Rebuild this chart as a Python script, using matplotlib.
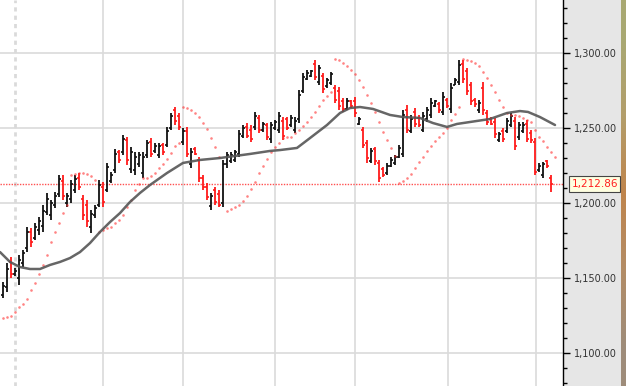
import matplotlib
matplotlib.use("Agg")
import matplotlib.pyplot as plt
import numpy as np
from matplotlib.ticker import MultipleLocator, FuncFormatter

# ---------------- data ----------------
opens = [1139,1144,1161,1153,1150,1160,1170,1181,1177,1182,1185,1194,1192,1199,1206,1215,1200,1203,1209,1217,
         1203,1199,1184,1192,1199,1211,1209,1215,1222,1234,1234,1242,1223,1222,1226,1220,1232,1241,1235,1232,
         1239,1239,1250,1262,1258,1241,1248,1226,1236,1229,1217,1211,1198,1209,1206,1200,1226,1228,1229,1233,
         1245,1251,1249,1251,1257,1249,1252,1243,1250,1249,1255,1256,1252,1249,1256,1275,1283,1285,1293,1281,
         1285,1278,1280,1277,1275,1268,1263,1268,1268,1253,1249,1240,1228,1236,1227,1223,1220,1225,1227,1231,
         1233,1262,1248,1261,1257,1249,1256,1259,1265,1266,1261,1269,1263,1279,1281,1293,1288,1279,1269,1262,
         1277,1260,1256,1254,1242,1248,1248,1252,1255,1244,1248,1253,1247,1241,1222,1219,1228,1217]
highs = [1147.5,1160.2,1164.2,1156.9,1165.5,1168.9,1184.2,1183.5,1186.9,1190.9,1198.9,1206.9,1202.2,1207.5,1218.9,1218.9,1206.9,1215.5,1218.9,1220.2,
         1205.5,1202.2,1195.5,1198.9,1215.5,1214.2,1226.9,1220.9,1236.2,1235.5,1245.5,1244.2,1237.5,1234.2,1234.2,1234.2,1242.2,1243.5,1240.2,1240.2,
         1240.2,1250.9,1260.2,1264.2,1260.2,1250.2,1250.9,1236.9,1237.5,1230.9,1218.9,1213.5,1206.9,1210.9,1208.9,1228.9,1234.2,1234.2,1235.5,1248.9,
         1252.2,1253.5,1252.2,1260.9,1258.9,1254.2,1253.5,1254.2,1255.5,1260.9,1257.5,1257.5,1258.9,1257.5,1275.5,1286.9,1288.9,1288.9,1295.5,1292.2,
         1286.9,1283.5,1287.5,1278.9,1277.5,1270.2,1270.2,1268.9,1270.9,1257.5,1250.9,1242.2,1236.9,1237.5,1228.9,1224.2,1226.9,1230.9,1232.2,1238.9,
         1262.2,1265.5,1258.9,1263.5,1258.9,1260.9,1264.2,1270.2,1268.9,1267.5,1274.2,1270.2,1280.2,1283.5,1295.5,1295.5,1290.2,1280.9,1270.2,1268.9,
         1280.9,1262.2,1257.5,1256.9,1247.5,1250.2,1256.9,1260.2,1257.5,1254.2,1254.2,1255.5,1248.9,1243.5,1226.9,1227.5,1228.9,1218.9]
lows = [1136.8,1140.9,1150.2,1151.5,1145.5,1157.5,1167.5,1170.9,1175.5,1178.9,1180.9,1192.2,1188.9,1196.9,1204.2,1202.2,1197.5,1200.2,1206.9,1208.9,
        1188.9,1184.2,1180.2,1190.2,1197.5,1197.5,1207.5,1213.5,1220.2,1226.9,1232.2,1225.5,1220.2,1218.9,1224.2,1216.9,1230.2,1230.9,1233.5,1230.2,
        1232.2,1237.5,1248.9,1252.2,1248.9,1238.9,1230.9,1223.5,1232.2,1214.2,1208.9,1202.2,1195.5,1198.9,1197.5,1197.5,1223.5,1226.9,1227.5,1230.9,
        1243.5,1243.5,1240.9,1248.9,1246.9,1247.5,1242.2,1240.2,1248.9,1246.9,1242.2,1248.9,1250.9,1246.9,1253.5,1273.5,1282.2,1284.2,1282.2,1278.9,
        1273.5,1276.9,1278.9,1266.9,1262.2,1260.9,1262.2,1263.5,1257.5,1252.2,1236.9,1226.9,1226.9,1225.5,1214.2,1217.5,1218.9,1224.2,1225.5,1230.2,
        1230.9,1246.9,1246.9,1250.9,1250.9,1247.5,1254.2,1256.9,1264.2,1260.2,1258.9,1263.5,1260.2,1278.9,1278.9,1280.2,1272.2,1265.5,1264.2,1260.2,
        1258.9,1252.2,1252.2,1243.5,1240.9,1240.9,1246.9,1250.9,1235.5,1242.2,1246.9,1240.9,1240.2,1218.9,1220.9,1216.9,1223.5,1207.5]
closes = [1145,1156,1153,1155,1162,1167,1181,1174,1184,1188,1195,1203,1200,1205,1216,1205,1205,1213,1216,1211,
          1192,1188,1193,1197,1212,1201,1224,1219,1233,1229,1243,1229,1234,1231,1232,1231,1240,1233,1238,1238,
          1234,1248,1258,1255,1251,1248,1233,1234,1233,1217,1211,1204,1205,1201,1199,1226,1232,1232,1234,1246,
          1250,1245,1243,1258,1249,1253,1244,1252,1254,1258,1245,1250,1257,1255,1272,1284,1287,1288,1284,1290,
          1276,1282,1286,1269,1265,1263,1268,1265,1260,1256,1239,1230,1235,1228,1217,1219,1225,1229,1231,1237,
          1259,1249,1256,1253,1252,1258,1262,1267,1268,1262,1271,1265,1277,1282,1292,1283,1275,1268,1266,1267,
          1262,1254,1253,1246,1246,1243,1255,1258,1238,1252,1252,1243,1242,1221,1225,1226,1225,1212.86]

sar = [1123.5,1124.2,1124.9,1127.5,1130.9,1132.9,1136.2,1142.2,1146.9,1152.8,1158.8,1165.5,1174.2,1180.8,1186.8,1193.5,1198.8,1218.8,1219.5,1220.2,
       1220.2,1219.5,1218.2,1215.5,1180.8,1182.2,1183.5,1184.2,1186.8,1188.8,1192.2,1197.5,1202.2,1208.8,1212.8,1216.8,1216.8,1218.2,1220.2,1223.5,
       1226.2,1229.5,1233.5,1238.2,1240.2,1264.2,1263.5,1262.2,1260.2,1257.5,1253.5,1249.5,1243.5,1237.5,1230.8,np.nan,1194.8,1196.2,1197.5,1198.8,
       1201.5,1204.8,1209.5,1214.2,1220.2,1224.8,1229.5,1234.2,1237.5,1240.2,1243.5,1244.2,1244.2,1246.8,1248.8,1251.5,1254.2,1257.5,1260.8,1264.8,
       1268.8,1271.5,1274.5,1296.2,1295.5,1293.5,1291.5,1288.8,1286.2,1282.2,1277.5,1272.2,1266.8,1260.8,1254.2,1247.5,1242.2,1236.8,1231.5,1213.5,
       1214.8,1216.8,1219.5,1223.5,1227.5,1230.8,1234.8,1238.2,1241.5,1244.2,1246.8,1250.2,1255.5,1259.5,1264.2,1296.2,1295.5,1294.8,1293.5,1291.5,
       1287.5,1283.5,1278.8,1274.2,1268.8,1264.2,1260.2,1258.8,1258.8,1258.2,1256.8,1255.5,1254.2,1248.8,1244.2,1241.5,1237.5,1234.2,1230.8]

ma_pos = [-0.75,1.75,4.25,6.75,9.25,11.75,14.25,16.75,19.25,21.75,24.25,26.75,29.25,31.75,34.25,36.75,41,45,49.25,54.25,
          61.75,66.75,69.25,73.5,76.75,81,84.25,86.75,89.25,92.5,96.75,100,104.25,107.5,111,113.5,116.75,121.75,126,129.25,
          131.25,134.25,138]
ma_val = [1167.5,1160.9,1157.5,1156.2,1156.2,1158.9,1160.9,1163.5,1167.5,1173.5,1180.9,1187.5,1193.5,1200.9,1206.9,1212.2,1220.2,1226.9,1228.9,1230.2,
          1232.9,1234.9,1235.5,1236.9,1243.5,1252.2,1260.2,1263.5,1264.2,1262.9,1258.9,1257.5,1256.9,1253.5,1250.9,1252.9,1254.2,1256.2,1260.2,1261.5,
          1260.9,1257.5,1252.2]

last_price = 1212.86
vgrid_pos = [25, 45, 68, 88, 111.25, 133.25]
vgrid_dashed = [3]
y_ticks_major = 50
y_ticks_minor = 10

# ---------------- figure ----------------
W, H = 626, 386
fig = plt.figure(figsize=(W / 100, H / 100), dpi=100)
fig.patch.set_facecolor("#e6e6e6")

# textured strip at far right
strip = fig.add_axes([621 / W, 0, 5 / W, 1])
grad = np.array([[0.66, 0.66, 0.45], [0.70, 0.62, 0.42], [0.75, 0.52, 0.30], [0.70, 0.55, 0.40], [0.62, 0.55, 0.48]])
strip.imshow(grad.reshape(5, 1, 3), aspect="auto", interpolation="bilinear")
strip.axis("off")

ax = fig.add_axes([0, 0, 563 / W, 1])
ax.set_facecolor("white")
ymax = 1300 + 53.3 * (50 / 75)
ymin = ymax - H * (50 / 75)
ax.set_ylim(ymin, ymax)
ax.set_xlim(-0.75, 140)

for s in ["left", "top", "bottom"]:
    ax.spines[s].set_visible(False)
ax.spines["right"].set_color("black")
ax.spines["right"].set_linewidth(1.0)
ax.yaxis.tick_right()
ax.yaxis.set_major_locator(MultipleLocator(y_ticks_major))
ax.yaxis.set_minor_locator(MultipleLocator(y_ticks_minor))
ax.yaxis.set_major_formatter(FuncFormatter(lambda v, p: f"{v:,.2f}"))
ax.tick_params(axis="y", which="major", direction="out", length=5, width=1, color="black",
               labelsize=7, labelcolor="#333333", pad=3)
ax.tick_params(axis="y", which="minor", direction="out", length=3, width=1, color="black")
ax.set_xticks([])

# grid
for v in range(1100, 1301, 50):
    ax.axhline(v, color="#dadada", lw=1.2, zorder=0)
for gx in vgrid_pos:
    ax.axvline(gx, color="#dadada", lw=1.2, zorder=0)
for gx in vgrid_dashed:
    ax.axvline(gx, color="#dadada", lw=2.0, ls=(0, (1.5, 1.5)), zorder=0)

# last price line
ax.axhline(last_price, color="#ff5050", lw=1.0, ls=(0, (1, 1)), zorder=1)

# OHLC bars
n = len(closes)
xs = np.arange(n)
for i in range(n):
    c = "#111111" if closes[i] >= opens[i] else "#ff1a1a"
    ax.vlines(xs[i], lows[i], highs[i], color=c, lw=1.3, zorder=3)
    ax.hlines(opens[i], xs[i] - 0.4, xs[i], color=c, lw=1.2, zorder=3)
    ax.hlines(closes[i], xs[i], xs[i] + 0.4, color=c, lw=1.2, zorder=3)

# parabolic SAR dots
ax.scatter(np.arange(len(sar)), sar, s=3.5, color="#ff3030", alpha=0.6, linewidths=0, zorder=4)

# moving average
ax.plot(ma_pos, ma_val, color="#555555", lw=1.8, alpha=0.9, zorder=5, solid_capstyle="round")

# last price label
ax.annotate(f"{last_price:,.2f}", xy=(1.0, last_price), xycoords=("axes fraction", "data"),
            xytext=(6, 0), textcoords="offset points", ha="left", va="center",
            fontsize=7.5, color="#ff2020", annotation_clip=False, zorder=10,
            bbox=dict(boxstyle="square,pad=0.25", fc="#ffffe0", ec="#444444", lw=0.8))

fig.savefig("out.png", dpi=100, facecolor=fig.get_facecolor())
